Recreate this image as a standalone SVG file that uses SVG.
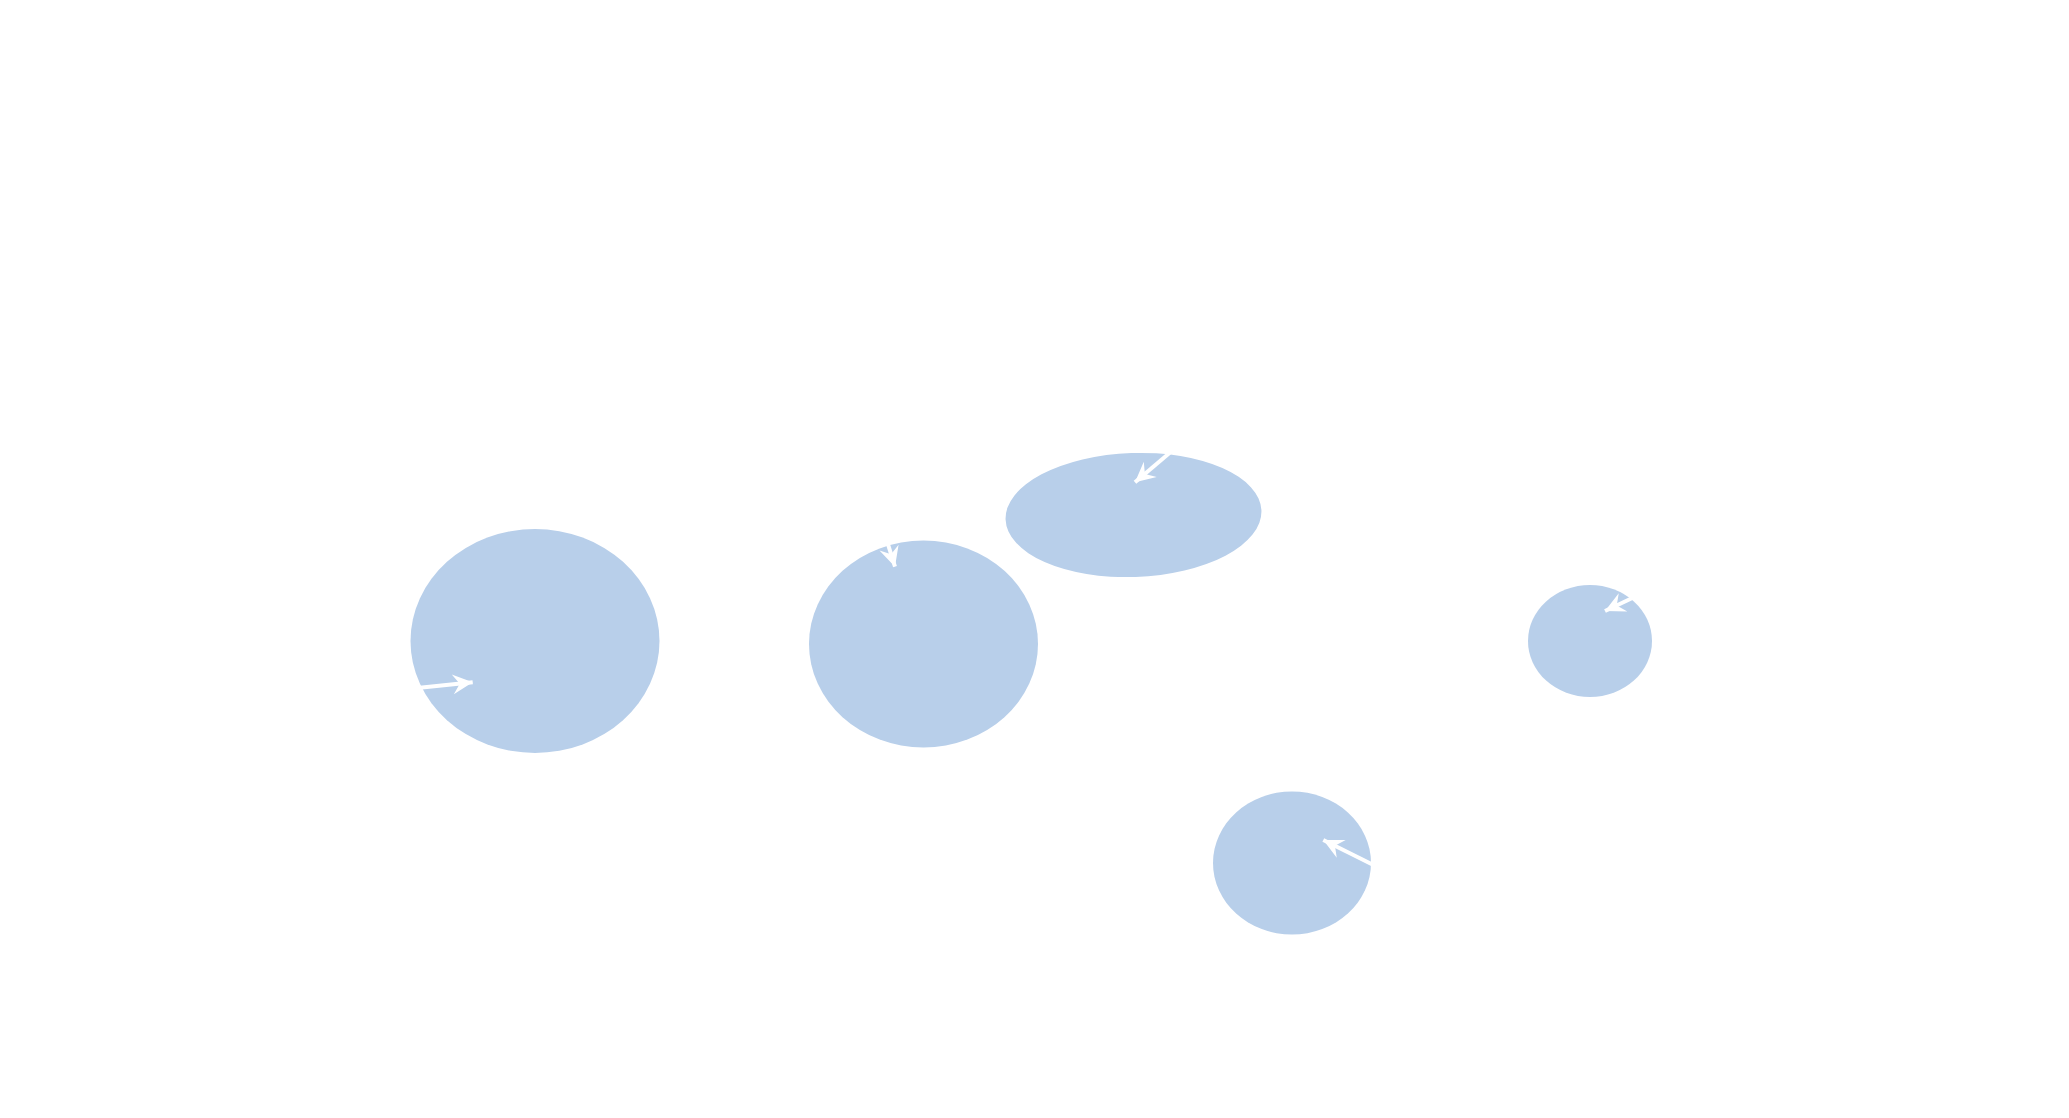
<svg xmlns="http://www.w3.org/2000/svg" width="2069" height="1118" viewBox="0 0 2069 1118">
<style>
.node{fill:#b8cfea;stroke:none}
.edge{fill:none;stroke:#ffffff;stroke-width:4}
</style>
<defs>
<marker id="arr" markerUnits="userSpaceOnUse" markerWidth="22" markerHeight="22" refX="20" refY="10" orient="auto" overflow="visible">
<path d="M0,0 L20,10 L0,20 L7,10 Z" fill="#ffffff"/>
</marker>
</defs>
<rect width="2069" height="1118" fill="#ffffff"/>
<g id="node1"><ellipse class="node" cx="535" cy="641" rx="124.5" ry="112"/></g>
<g id="node2"><ellipse class="node" cx="923.5" cy="644" rx="114.5" ry="103.5"/></g>
<g id="node3"><ellipse class="node" cx="1133.5" cy="515" rx="128" ry="62" transform="rotate(-2 1133.5 515)"/></g>
<g id="node4"><ellipse class="node" cx="1590" cy="641" rx="62" ry="56"/></g>
<g id="node5"><ellipse class="node" cx="1292" cy="863" rx="79" ry="71.5"/></g>
<g id="connectors">
<line class="edge" x1="374" y1="692.6" x2="472.7" y2="682.3" marker-end="url(#arr)"/>
<line class="edge" x1="871" y1="490" x2="895" y2="566.7" marker-end="url(#arr)"/>
<line class="edge" x1="1196" y1="430.5" x2="1135" y2="482.3" marker-end="url(#arr)"/>
<line class="edge" x1="1677" y1="576.7" x2="1605" y2="611" marker-end="url(#arr)"/>
<line class="edge" x1="1395" y1="875.7" x2="1323.3" y2="840" marker-end="url(#arr)"/>
</g>
</svg>
